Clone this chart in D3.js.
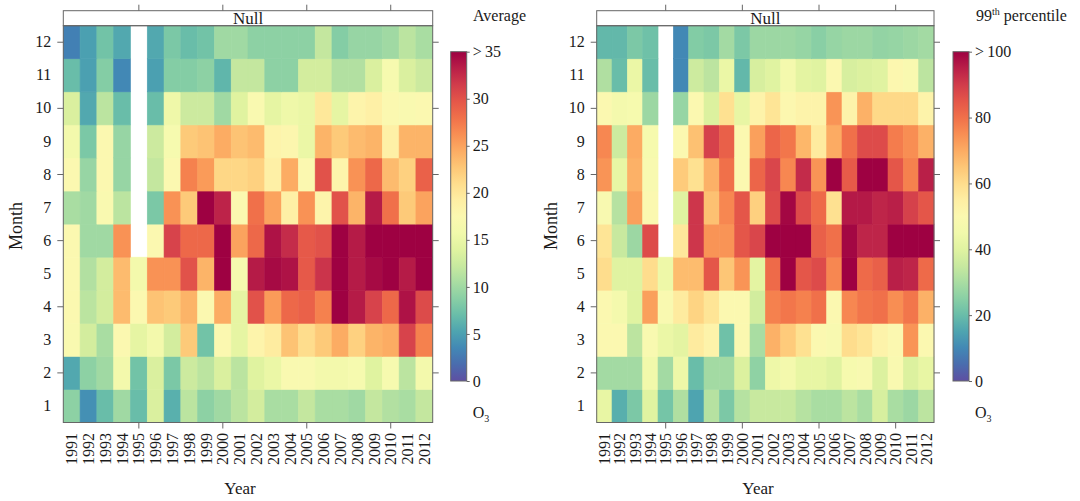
<!DOCTYPE html>
<html>
<head>
<meta charset="utf-8">
<script src="https://d3js.org/d3.v7.min.js"></script>
<style>
    body { margin: 0; background: #fff; }
    svg text { font-family: "Liberation Serif", "DejaVu Serif", serif !important; fill: #1a1a1a; }
    .axis .domain { display: none; }
    .axis line { stroke: #666; }
    .frame { fill: none; stroke: #666; stroke-width: 1; }
</style>
</head>
<body>
<svg id="chart" width="1080" height="501"></svg>
<script>
// categories
const years = [1991, 1992, 1993, 1994, 1995, 1996, 1997, 1998, 1999, 2000, 2001,
               2002, 2003, 2004, 2005, 2006, 2007, 2008, 2009, 2010, 2011, 2012];
const months = [1, 2, 3, 4, 5, 6, 7, 8, 9, 10, 11, 12];

// monthly average O3, one row per month (Jan..Dec), one value per year; null = no data
const avgValues = [
    [9, 4, 7, 10, 7, 13.5, 6, 11.5, 9, 10, 11.5, 13, 10.5, 10.5, 12, 10.5, 10.5, 10, 12, 11, 10.5, 12],
    [5.5, 9, 10, 16, 7.5, 13.5, 8, 12.5, 11.5, 13.5, 11.5, 14, 15, 17, 17, 16, 16, 16.5, 14, 16.5, 11.5, 16],
    [17, 13, 10.5, 17.5, 14.5, 16, 13, 22.5, 7.5, 17.5, 14.5, 18.5, 19.5, 23, 21, 22.5, 24.5, 22, 24, 24.5, 31, 27],
    [17.5, 11.5, 13, 23.5, 17.5, 23, 22.5, 24, 17.5, 24.5, 14.5, 30, 25.5, 28.5, 29, 27, 36, 33.5, 31, 28.5, 34, 30.5],
    [17.5, 11, 13, 23.5, 16, 26, 26, 30, 24, 36, 16.5, 33.5, 34.5, 34, 29.5, 32, 36, 33.5, 34.5, 36, 33.5, 36],
    [17.5, 10, 10, 26, null, 17.5, 31, 28.5, 28.5, 36, 25, 28.5, 34, 32.5, 29.5, 30, 36, 33.5, 36, 36, 36, 36],
    [10.5, 10, 17, 11.5, null, 8, 26, 22.5, 36, 33, 17.5, 28, 25, 19, 26, 18.5, 30, 24, 33.5, 28, 22.5, 25],
    [17.5, 9.5, 17.5, 9.5, null, 12, 17.5, 27, 25.5, 21.5, 21.5, 22, 19, 24.5, 17.5, 30, 18.5, 26, 28.5, 23.5, 22, 29],
    [16, 8, 17.5, 9.5, null, 12.5, 16.5, 22.5, 23, 24.5, 23, 23.5, 18.5, 18, 15, 24, 22.5, 23.5, 24, 19, 24, 24],
    [13.5, 5.5, 11.5, 7, null, 7, 15.5, 12.5, 12.5, 10, 14, 17, 14.5, 15.5, 15, 20, 14.5, 18.5, 19, 17.5, 17, 17.5],
    [7, 5, 8.5, 3.5, null, 5, 8.5, 8.5, 9, 6.5, 12, 12, 9, 9, 13, 13, 11, 11, 13.5, 16.5, 13.5, 12.5],
    [3, 5, 7.5, 5.5, null, 5.5, 8, 7, 7.5, 10, 10, 9, 9, 9, 9, 12, 8.5, 9.5, 9.5, 10, 11.5, 10.5]
];

// monthly 99th percentile O3
const p99Values = [
    [42, 17, 23, 40, 22, 31, 15, 32, 23, 32, 35, 35, 35, 32, 30, 30, 33, 30, 38, 30, 28, 33],
    [29, 29, 29, 45, 29, 44, 20, 29, 29, 39, 26, 44, 46, 42, 42, 40, 47, 48, 39, 49, 39, 42],
    [50, 50, 33, 48, 43, 41, 56, 53, 21, 50, 30, 69, 64, 59, 50, 48, 60, 58, 53, 50, 74, 50],
    [50, 46, 40, 72, 49, 56, 62, 58, 50, 50, 37, 77, 79, 77, 80, 50, 76, 79, 80, 75, 79, 69],
    [60, 40, 40, 60, 44, 67, 67, 85, 65, 74, 41, 81, 102, 85, 87, 76, 102, 81, 83, 95, 94, 81],
    [58, 35, 28, 87, null, 57, 91, 74, 74, 85, 88, 102, 102, 102, 83, 80, 99, 94, 94, 102, 102, 102],
    [48, 32, 72, 50, null, 40, 91, 66, 76, 85, 63, 87, 99, 87, 81, 59, 96, 96, 94, 95, 89, 85],
    [74, 42, 69, 48, null, 64, 59, 69, 80, 50, 82, 88, 76, 93, 74, 102, 84, 102, 102, 85, 77, 95],
    [76, 36, 70, 47, null, 50, 66, 89, 83, 50, 72, 82, 79, 68, 56, 70, 80, 87, 87, 78, 75, 69],
    [50, 46, 47, 28, null, 27, 50, 39, 59, 42, 53, 58, 51, 53, 53, 74, 53, 69, 61, 61, 61, 53],
    [31, 20, 43, 20, null, 10, 36, 33, 43, 19, 38, 40, 46, 41, 40, 50, 38, 39, 40, 51, 49, 33],
    [19, 19, 23, 21, null, 10, 24, 23, 29, 23, 28, 28, 28, 27, 25, 27, 28, 28, 26.5, 27, 28, 29]
];

const avgTicks = [0, 5, 10, 15, 20, 25, 30, 35];
const p99Ticks = [0, 20, 40, 60, 80, 100];

const serif = '"Liberation Serif", "DejaVu Serif", serif';
const svg = d3.select("svg#chart");
const stripTop = 10.7, heatTop = 25.7, heatBottom = 422.5;
const barTop = 51.7, barBottom = 381;

// d3 axes put font-family="sans-serif" on the group, switch it back to serif
function serifAxis(sel) {
    sel.attr("font-family", serif);
    sel.selectAll("text").style("font-family", serif).style("font-size", "16px");
}

function drawPanel(values, x0, x1, maxVal, opts) {
    const g = svg.append("g");
    const x = d3.scaleBand().domain(years).range([x0, x1]);
    const y = d3.scaleBand().domain(months.slice().reverse()).range([heatTop, heatBottom]);
    const color = d3.scaleSequential(t => d3.interpolateSpectral(1 - t)).domain([0, maxVal]).clamp(true);

    // cells
    const cells = [];
    months.forEach((m, i) => {
        years.forEach((yr, j) => {
            if (values[i][j] != null) cells.push({month: m, year: yr, value: values[i][j]});
        });
    });
    g.append("g").selectAll("rect")
        .data(cells)
        .join("rect")
        .attr("x", d => x(d.year))
        .attr("y", d => y(d.month))
        .attr("width", x.bandwidth())
        .attr("height", y.bandwidth())
        .attr("fill", d => color(d.value))
        .attr("stroke", d => color(d.value))
        .attr("stroke-width", 0.6);

    // strip + frame
    g.append("rect").attr("class", "frame")
        .attr("x", x0).attr("y", stripTop).attr("width", x1 - x0).attr("height", heatTop - stripTop)
        .style("fill", "#fff");
    g.append("text")
        .attr("x", (x0 + x1) / 2).attr("y", 23.5)
        .attr("text-anchor", "middle").style("font-size", "17px")
        .text("Null");
    g.append("rect").attr("class", "frame")
        .attr("x", x0).attr("y", heatTop).attr("width", x1 - x0).attr("height", heatBottom - heatTop);

    // axes
    const majorYears = [1995, 2000, 2005, 2010];
    const bottom = g.append("g").attr("class", "axis")
        .attr("transform", `translate(0,${heatBottom})`)
        .call(d3.axisBottom(x).tickSize(6))
        .call(serifAxis);
    bottom.selectAll(".tick line").attr("display", d => majorYears.includes(d) ? null : "none");
    bottom.selectAll("text")
        .attr("transform", "rotate(-90)")
        .attr("x", -10.5).attr("y", 0).attr("dy", "0.35em")
        .style("text-anchor", "end");

    g.append("g").attr("class", "axis")
        .attr("transform", `translate(0,${stripTop})`)
        .call(d3.axisTop(x).tickValues(majorYears).tickFormat("").tickSize(6));

    const left = g.append("g").attr("class", "axis")
        .attr("transform", `translate(${x0},0)`)
        .call(d3.axisLeft(y).tickSize(6).tickPadding(6))
        .call(serifAxis);
    left.selectAll(".tick line").attr("display", d => d % 2 === 0 ? null : "none");

    g.append("g").attr("class", "axis")
        .attr("transform", `translate(${x1},0)`)
        .call(d3.axisRight(y).tickValues([2, 4, 6, 8, 10, 12]).tickFormat("").tickSize(6));

    // axis titles
    g.append("text")
        .attr("transform", `translate(${opts.monthX},${(heatTop + heatBottom) / 2 + 2}) rotate(-90)`)
        .attr("text-anchor", "middle").style("font-size", "18px")
        .text("Month");
    g.append("text")
        .attr("x", opts.yearX).attr("y", 494)
        .attr("text-anchor", "middle").style("font-size", "17px")
        .text("Year");

    // colour bar
    const gradId = "grad" + opts.id;
    const grad = svg.append("defs").append("linearGradient")
        .attr("id", gradId).attr("x1", 0).attr("y1", 1).attr("x2", 0).attr("y2", 0);
    d3.range(0, 1.0001, 0.05).forEach(t => {
        grad.append("stop").attr("offset", t).attr("stop-color", color(t * maxVal));
    });
    g.append("rect")
        .attr("x", opts.barX).attr("y", barTop)
        .attr("width", opts.barW).attr("height", barBottom - barTop)
        .attr("fill", `url(#${gradId})`).attr("stroke", "#666");
    const cs = d3.scaleLinear().domain([0, maxVal]).range([barBottom, barTop]);
    g.append("g").attr("class", "axis")
        .attr("transform", `translate(${opts.barX + opts.barW},0)`)
        .call(d3.axisRight(cs).tickValues(opts.ticks).tickSize(3).tickPadding(3)
            .tickFormat(d => d === maxVal ? ">\u2009" + d : d))
        .call(serifAxis);

    // legend title and unit
    const title = g.append("text")
        .attr("x", opts.titleX).attr("y", 21).style("font-size", "16px");
    opts.title(title);
    const unit = g.append("text")
        .attr("x", opts.barX + opts.barW + 6).attr("y", 418).style("font-size", "16px");
    unit.append("tspan").text("O");
    unit.append("tspan").attr("dy", 4).style("font-size", "10px").text("3");
}

drawPanel(avgValues, 63.3, 432.7, 35, {
    id: "avg", monthX: 22, yearX: 240, barX: 450.7, barW: 16, ticks: avgTicks, titleX: 473,
    title: t => t.text("Average")
});

drawPanel(p99Values, 596.7, 934, 100, {
    id: "p99", monthX: 557, yearX: 758, barX: 953, barW: 16, ticks: p99Ticks, titleX: 976,
    title: t => {
        t.append("tspan").text("99");
        t.append("tspan").attr("dy", -6).style("font-size", "10px").text("th");
        t.append("tspan").attr("dy", 6).text(" percentile");
    }
});
</script>
</body>
</html>
